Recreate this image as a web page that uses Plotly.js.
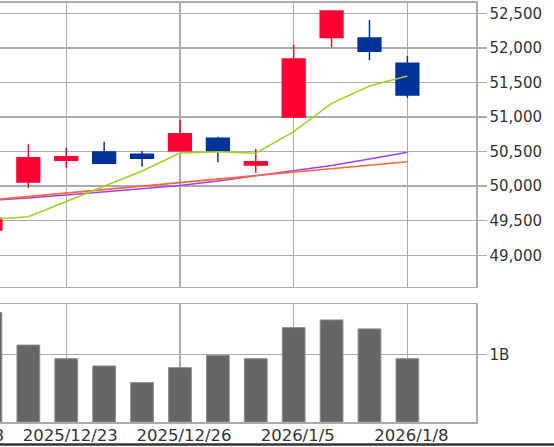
<!DOCTYPE html>
<html>
<head>
<meta charset="utf-8">
<script src="https://cdn.plot.ly/plotly-3.0.1.min.js"></script>
<style>
html,body{margin:0;padding:0;width:554px;height:447px;overflow:hidden;background:#fff;}
#wrap{position:absolute;left:0;top:0;width:554px;height:447px;overflow:hidden;}
#chart{position:absolute;left:-120px;top:0;width:674px;height:447px;}
</style>
</head>
<body>
<div id="wrap"><div id="chart"></div></div>
<script>
// ---- data ----
var dates = ['2025/12/18','2025/12/19','2025/12/22','2025/12/23','2025/12/24','2025/12/25','2025/12/26','2025/12/29','2025/12/30','2026/1/5','2026/1/6','2026/1/7','2026/1/8'];
var openP  = [49650, 49366, 50060, 50374, 50494, 50461, 50513, 50692, 50306, 51000, 52151, 52143, 51777];
var highP  = [49720, 49600, 50605, 50556, 50643, 50509, 50957, 50715, 50537, 52042, 52533, 52403, 51882];
var lowP   = [49300, 49300, 49978, 50267, 50325, 50281, 50505, 50345, 50195, 50986, 52008, 51820, 51279];
var closeP = [49400, 49535, 50412, 50426, 50331, 50403, 50759, 50513, 50354, 51839, 52533, 51950, 51318];
var maShort = [49480, 49518, 49558, 49778, 49995, 50219, 50480, 50498, 50475, 50788, 51198, 51449, 51593];
var maMid   = [49750, 49800, 49852, 49901, 49950, 50002, 50051, 50101, 50151, 50202, 50251, 50302, 50354];
var maLong  = [49760, 49793, 49829, 49872, 49915, 49959, 50010, 50075, 50147, 50227, 50299, 50393, 50490];
var volume  = [1.30e9, 1.626e9, 1.143e9, 0.941e9, 0.833e9, 0.586e9, 0.808e9, 0.990e9, 0.941e9, 1.404e9, 1.517e9, 1.384e9, 0.941e9];
var tickDates = ['2025/12/18','2025/12/23','2025/12/26','2026/1/5','2026/1/8'];
var volTickVals = [1e9];
var volTickText = ['1B'];

var GRID = '#ababab';
var FONT = 'DejaVu Sans, Verdana, sans-serif';
var XR = [-0.70, 13.81];

var traces = [
  {type:'candlestick', x:dates, open:openP, high:highP, low:lowP, close:closeP,
   xaxis:'x', yaxis:'y', whiskerwidth:0,
   increasing:{line:{color:'#ff0033', width:1.5}, fillcolor:'#ff0033'},
   decreasing:{line:{color:'#003399', width:1.5}, fillcolor:'#003399'},
   hoverinfo:'skip', showlegend:false},
  {type:'scatter', mode:'lines', x:dates, y:maLong, xaxis:'x', yaxis:'y',
   line:{color:'#a040ff', width:1.6}, showlegend:false, hoverinfo:'skip'},
  {type:'scatter', mode:'lines', x:dates, y:maMid, xaxis:'x', yaxis:'y',
   line:{color:'#ff6633', width:1.6}, showlegend:false, hoverinfo:'skip'},
  {type:'scatter', mode:'lines', x:dates, y:maShort, xaxis:'x', yaxis:'y',
   line:{color:'#a3cf28', width:1.6}, showlegend:false, hoverinfo:'skip'},
  {type:'bar', x:dates, y:volume, xaxis:'x2', yaxis:'y2', width:0.6,
   marker:{color:'#666666', line:{color:'#8c8c8c', width:1}},
   showlegend:false, hoverinfo:'skip'}
];

var layout = {
  width:674, height:447,
  margin:{l:46, r:78, t:0, b:0},
  paper_bgcolor:'#ffffff', plot_bgcolor:'#ffffff',
  font:{family:FONT, size:15, color:'#333333'},
  showlegend:false,
  boxgap:0.4, boxgroupgap:0,
  xaxis:{type:'category', range:XR, domain:[0,1], anchor:'y',
    rangeslider:{visible:false}, tickmode:'array', tickvals:tickDates,
    showticklabels:false, ticks:'', showgrid:true, gridcolor:GRID, gridwidth:1.5,
    showline:true, mirror:true, linecolor:GRID, linewidth:1.5, zeroline:false, fixedrange:true},
  yaxis:{domain:[1-286.7/447, 1-2.5/447], range:[48546, 52656], side:'right', anchor:'x',
    dtick:500, tick0:0, tickformat:',', ticks:'outside', ticklen:9, tickwidth:1.5, tickcolor:GRID,
    showgrid:true, gridcolor:GRID, gridwidth:1.5, showline:true, linecolor:GRID, linewidth:1.5,
    zeroline:false, tickfont:{size:15, color:'#333333'}, fixedrange:true},
  xaxis2:{type:'category', range:XR, domain:[0,1], anchor:'y2',
    tickmode:'array', tickvals:tickDates, ticks:'', showgrid:true, gridcolor:GRID, gridwidth:1.5,
    showline:true, mirror:true, linecolor:GRID, linewidth:1.5, zeroline:false,
    ticklabelshift:4, ticklabelstandoff:-2,
    tickfont:{size:16.5, color:'#333333'}, fixedrange:true},
  yaxis2:{domain:[1-422/447, 1-304/447], range:[0, 1.754e9], side:'right', anchor:'x2',
    tickmode:'array', tickvals:volTickVals, ticktext:volTickText,
    ticks:'outside', ticklen:9, tickwidth:1.5, tickcolor:GRID,
    showgrid:true, gridcolor:GRID, gridwidth:1.5, showline:true, linecolor:GRID, linewidth:1.5,
    zeroline:false, tickfont:{size:15, color:'#333333'}, fixedrange:true},
  shapes:[
    {type:'line', xref:'paper', yref:'paper', x0:-1, x1:2, y0:2.6/447, y1:2.6/447,
     line:{color:'#333333', width:2.5}}
  ]
};

Plotly.newPlot('chart', traces, layout, {staticPlot:true, displayModeBar:false});
</script>
</body>
</html>
